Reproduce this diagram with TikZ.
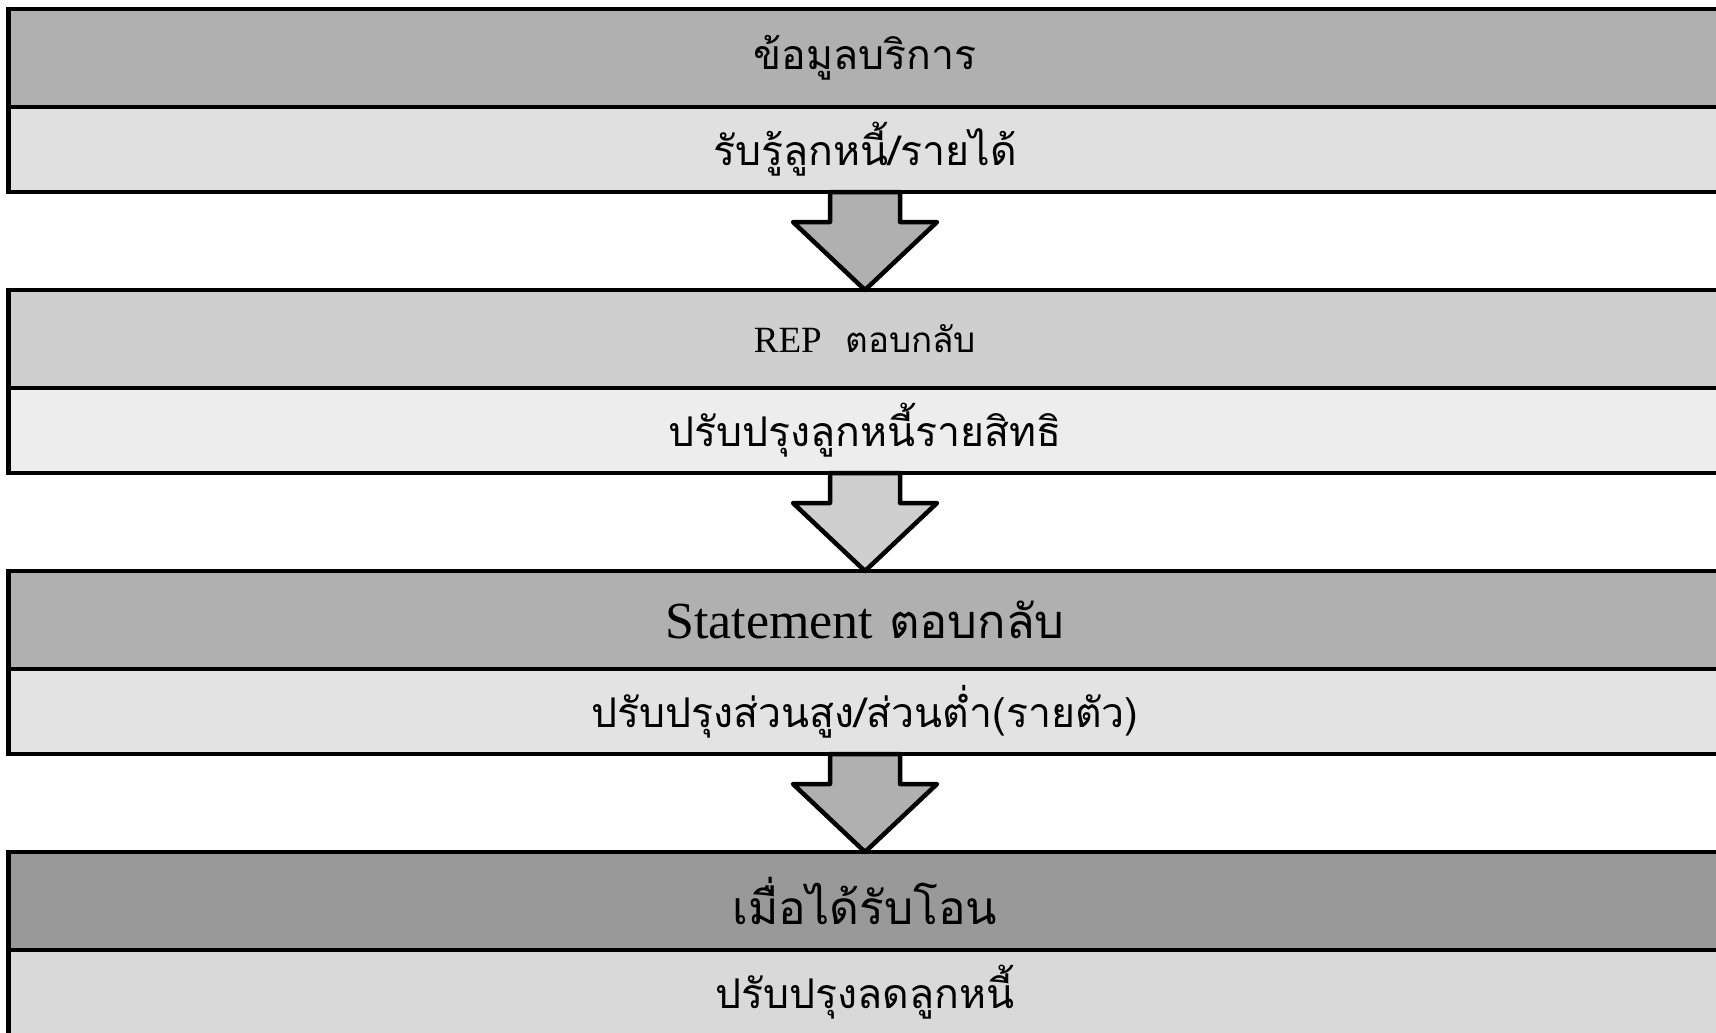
\documentclass[tikz,border=0pt]{standalone}
\usepackage{fontspec}
\setmainfont{Liberation Serif}
\newfontfamily\thaifont[Script=Thai]{Loma}
\usetikzlibrary{positioning, calc}
\tikzset{
band/.style={draw, line width=4.5pt, outer sep=0pt, inner sep=0pt, minimum width=1713pt, font=\thaifont\fontsize{41}{46}\selectfont},
headband/.style={band, minimum height=98pt}, noteband/.style={band, minimum height=85pt},
flowarrow/.style={draw, line width=4.5pt, line join=round}}
\begin{document}
\begin{tikzpicture}[x=1pt, y=1pt]
\useasboundingbox (0,0) rectangle (1716,-1033);
\clip (0,0) rectangle (1716,-1033);
\fill [white] (0,0) rectangle (1716,-1033);
\foreach \headtext/\notetext/\headfill/\notefill [count=\i, evaluate={\ytop=-9-281*(\i-1);}] in {
    {ข้อมูลบริการ}/{รับรู้ลูกหนี้/รายได้}/31/12,
    {\fontsize{35}{40}\selectfont{\rmfamily\fontsize{37}{40}\selectfont REP}\ \ ตอบกลับ}/{ปรับปรุงลูกหนี้รายสิทธิ}/19/7,
    {\fontsize{47}{52}\selectfont{\rmfamily\fontsize{52}{56}\selectfont Statement} ตอบกลับ}/{ปรับปรุงส่วนสูง/ส่วนต่ำ(รายตัว)}/31/11,
    {\fontsize{46}{50}\selectfont เมื่อได้รับโอน}/{ปรับปรุงลดลูกหนี้}/40/15}{
      \node [headband, fill=black!\headfill, anchor=north] at (865, \ytop) (head-\i) {\headtext};
      \node [noteband, fill=black!\notefill, below=0pt of head-\i] (note-\i) {\notetext};
}
\foreach \arrowfill [count=\i, evaluate={\j=int(\i+1);}] in {31, 19, 31}{
      \filldraw [flowarrow, fill=black!\arrowfill] ($(note-\i.south)+(-35,0)$) -- ++(0,-30) -- ++(-37,0)
          -- (head-\j.north) -- ($(note-\i.south)+(72,-30)$) -- ++(-37,0) -- ($(note-\i.south)+(35,0)$) -- cycle;
}
\end{tikzpicture}
\end{document}
